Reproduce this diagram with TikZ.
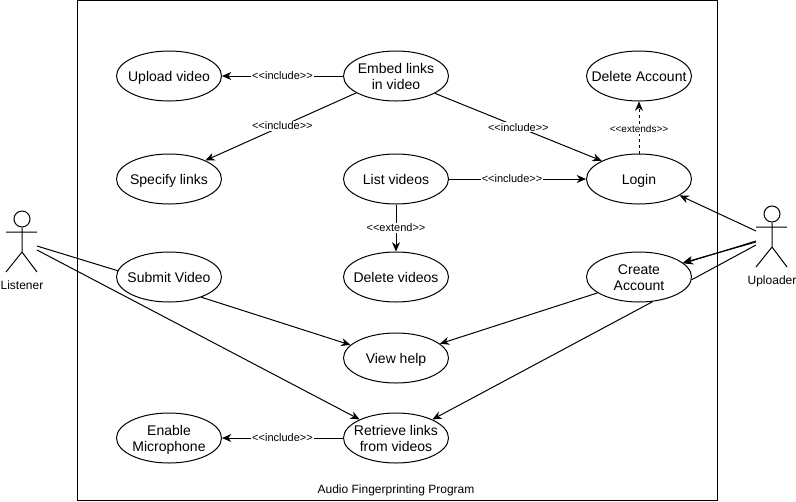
\documentclass[tikz,border=0pt]{standalone}
\usepackage{fontspec}
\setmainfont{Liberation Sans}
\usetikzlibrary{shapes.geometric,arrows.meta}
\newcommand{\cln}[1]{\makebox[0pt]{\rule[-.5pt]{0pt}{9pt}\smash{#1}}}
\tikzset{
  usecase/.style={ellipse,draw=black,fill=white,line width=.75pt,minimum width=78.75pt,minimum height=37.5pt,inner sep=0pt,align=center,font=\fontsize{10.5}{12}\selectfont},
  tagtext/.style={fill=white,inner sep=.6pt,font=\fontsize{8.25}{9}\selectfont},
  smalltag/.style={fill=white,inner sep=.6pt,font=\fontsize{7.5}{9}\selectfont},
  actortext/.style={inner sep=0pt,font=\fontsize{9}{11}\selectfont},
  conn/.style={line width=.75pt,-{Stealth[length=7pt,width=6pt]}},
  plainconn/.style={line width=.75pt},
  head/.style={circle,draw=black,line width=.75pt,minimum size=12pt,inner sep=0pt},
  limb/.style={line width=.75pt}
}
\begin{document}
\begin{tikzpicture}[x=.75pt,y=-.75pt]
\useasboundingbox (0,0) rectangle (796,501);
\node[draw=black,line width=.75pt,minimum width=480pt,minimum height=375pt,inner sep=0pt] (frame) at (397,250) {};
\node[actortext] (title) at (396,490) {Audio Fingerprinting Program};
% free ends at the actors
\coordinate (lA) at (37,246);
\coordinate (lB) at (37,250);
\coordinate (uA) at (756,231);
\coordinate (uB) at (756,241);
\coordinate (uB2) at (756,242);
\coordinate (uC) at (756,245);
% use cases
\node[usecase] (upload) at (169,76) {\cln{Upload video}};
\node[usecase] (embed) at (396,76) {\cln{Embed links}\\\cln{in video}};
\node[usecase] (delacc) at (639,76) {\cln{Delete Account}};
\node[usecase] (specify) at (169,179) {\cln{Specify links}};
\node[usecase] (list) at (396,179) {\cln{List videos}};
\node[usecase] (login) at (639,179) {\cln{Login}};
\node[usecase] (submit) at (169,277) {\cln{Submit Video}};
\node[usecase] (delvid) at (396,277) {\cln{Delete videos}};
\node[usecase] (create) at (639,277) {\cln{Create}\\\cln{Account}};
\node[usecase] (help) at (396,358) {\cln{View help}};
\node[usecase] (mic) at (169,438) {\cln{Enable}\\\cln{Microphone}};
\node[usecase] (retrieve) at (396,438) {\cln{Retrieve links}\\\cln{from videos}};
% connectors
\draw[conn] (embed.west) -- node[tagtext,pos=.5] {<{}<include>{}>} (upload.east);
\draw[conn] (embed.203.5) -- node[tagtext,pos=.49] {<{}<include>{}>} (specify.27.8);
\draw[conn] (embed.-24.3) -- node[tagtext,pos=.5] {<{}<include>{}>} (login.154);
\draw[conn] (list.east) -- node[tagtext,pos=.46] {<{}<include>{}>} (login.west);
\draw[conn] (list.south) -- node[tagtext,pos=.5] {<{}<extend>{}>} (delvid.north);
\draw[conn,dash pattern=on 2.25pt off 2.25pt] (login.north) -- node[smalltag,pos=.47] {<{}<extends>{}>} (delacc.south);
\draw[conn] (retrieve.west) -- node[tagtext,pos=.5] {<{}<include>{}>} (mic.east);
\draw[conn] (submit.-32.8) -- (help.164.2);
\draw[conn] (create.201.3) -- (help.18.8);
\draw[plainconn] (lA) -- (submit.173.4);
\draw[conn] (lB) -- (retrieve.153.4);
\draw[conn] (uA) -- (login.-22.3);
\draw[conn] (uB) -- (create.17.3);
\draw[conn] (uB2) -- (create.18.5);
\draw[plainconn] (uC) -- (create.-3);
\draw[conn] (create.-61.7) -- (retrieve.27);
% Listener
\node[head] (lhead) at (22,219) {};
\coordinate (lhip) at (22,252);
\coordinate (larmL) at (6,232);
\coordinate (larmR) at (37,232);
\coordinate (llegL) at (6,272);
\coordinate (llegR) at (37,272);
\draw[limb] (lhead.south) -- (lhip) (larmL) -- (larmR) (llegL) -- (lhip) -- (llegR);
\node[actortext] (ltext) at (22,285) {Listener};
% Uploader
\node[head] (uhead) at (772,214) {};
\coordinate (uhip) at (772,247);
\coordinate (uarmL) at (756,227);
\coordinate (uarmR) at (787,227);
\coordinate (ulegL) at (756,267);
\coordinate (ulegR) at (787,267);
\draw[limb] (uhead.south) -- (uhip) (uarmL) -- (uarmR) (ulegL) -- (uhip) -- (ulegR);
\node[actortext] (utext) at (772,281) {Uploader};
\end{tikzpicture}
\end{document}
